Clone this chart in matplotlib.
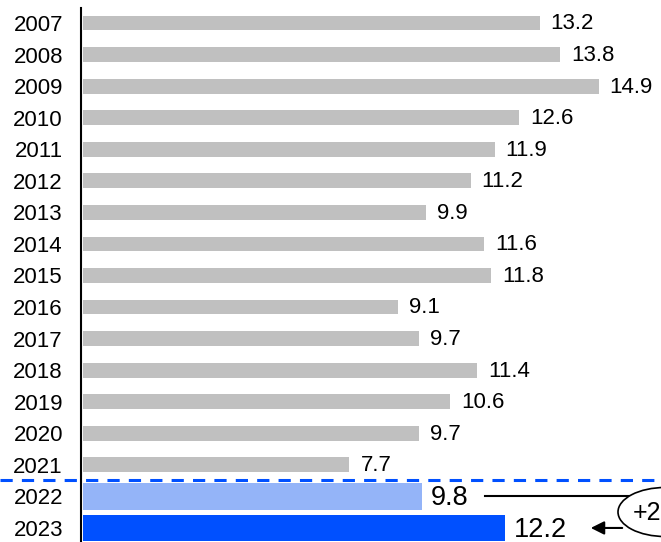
import matplotlib.pyplot as plt
from matplotlib.patches import Ellipse

plt.rcParams['font.family'] = ['Liberation Sans', 'DejaVu Sans']

years = ['2007', '2008', '2009', '2010', '2011', '2012', '2013', '2014',
         '2015', '2016', '2017', '2018', '2019', '2020', '2021', '2022', '2023']
values = [13.2, 13.8, 14.9, 12.6, 11.9, 11.2, 9.9, 11.6,
          11.8, 9.1, 9.7, 11.4, 10.6, 9.7, 7.7, 9.8, 12.2]
change_label = '+24%'

gray = '#C0C0C0'
light_blue = '#94B4F8'
blue = '#0050FF'

fig = plt.figure(figsize=(6.61, 5.42), dpi=100)
W, H = 661, 542
ax = fig.add_axes([81 / W, 0, 1 - 81 / W, 1 - 8 / H])

px_x = 34.6   # pixels per unit
px_y = 31.56  # pixels per row
x0 = (81 - 83) / px_x
ax.set_xlim(x0, x0 + (W - 81) / px_x)
ax.set_ylim((542 - 23) / px_y, (8 - 23) / px_y)

n = len(years)
for i, (yr, v) in enumerate(zip(years, values)):
    if i < n - 2:
        ax.barh(i, v, height=0.47, color=gray)
        ax.text(v + 11 / px_x, i + 0.03, f'{v}', va='center', ha='left', fontsize=16)
    else:
        c = light_blue if i == n - 2 else blue
        ax.barh(i, v, height=0.84, color=c)
        ax.text(v + 9 / px_x, i + 0.05, f'{v}', va='center', ha='left', fontsize=19.5)

ax.set_yticks(range(n))
ax.set_yticklabels(years, fontsize=16)
ax.tick_params(axis='y', length=0, pad=13)
ax.set_xticks([])
for s in ['top', 'right', 'bottom']:
    ax.spines[s].set_visible(False)
ax.spines['left'].set_linewidth(1.5)

# separator between history and recent years
ax.plot([x0 - 81 / px_x, x0 + (W - 81) / px_x], [n - 2.52, n - 2.52],
        color=blue, lw=2.2, ls=(0, (4, 3)), clip_on=False)

# change annotation
y22, y23 = n - 2, n - 1
ax.plot([(485 - 83) / px_x, (640 - 83) / px_x], [y22, y22], color='black', lw=1.5, clip_on=False)
ax.annotate('', xy=((588 - 83) / px_x, y23), xytext=((625 - 83) / px_x, y23),
            arrowprops=dict(arrowstyle='-|>', color='black', lw=1.5, mutation_scale=20),
            annotation_clip=False)
cx, cy = (665 - 83) / px_x, (512 - 23) / px_y
ax.add_patch(Ellipse((cx, cy), 94 / px_x, 49 / px_y, facecolor='white',
                     edgecolor='black', lw=1.2, clip_on=False, zorder=3))
ax.text(cx, cy + 0.04, change_label, ha='center', va='center', fontsize=18, zorder=4, clip_on=False)

fig.savefig('out.png', dpi=100)
